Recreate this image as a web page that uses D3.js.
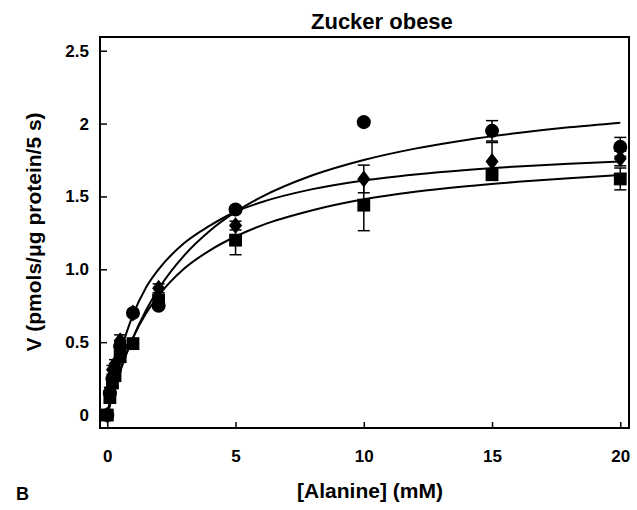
<!DOCTYPE html>
<html>
<head>
<meta charset="utf-8">
<script src="https://cdn.jsdelivr.net/npm/d3@7"></script>
<style>
  body { margin: 0; background: #fff; }
  svg text { font-family: "Liberation Sans", Arial, sans-serif; font-weight: bold; fill: #000; }
</style>
</head>
<body>
<svg id="chart" width="637" height="510"></svg>
<script>
// alanine concentration (mM)
const conc = [0, 0.1, 0.2, 0.3, 0.5, 1, 2, 5, 10, 15, 20];

// uptake V for the three groups, with SE
const circleV   = [0, 0.15, 0.25, 0.31, 0.47, 0.70, 0.75, 1.41, 2.01, 1.95, 1.84];
const circleErr = [0, 0, 0, 0, 0.03, 0.02, 0.02, 0.02, 0.02, 0.07, 0.065];
const diamondV   = [0, 0.17, 0.31, 0.35, 0.51, 0.70, 0.87, 1.30, 1.62, 1.74, 1.76];
const diamondErr = [0, 0.02, 0.03, 0.03, 0.04, 0.02, 0.03, 0.03, 0.095, 0.13, 0.05];
const squareV   = [0, 0.12, 0.22, 0.27, 0.40, 0.49, 0.79, 1.20, 1.44, 1.65, 1.62];
const squareErr = [0, 0.02, 0.03, 0.03, 0.03, 0.02, 0.03, 0.10, 0.175, 0.03, 0.075];

// fitted curves
const curveX       = [0, 0.25, 0.5, 1, 1.5, 2, 3, 4, 5, 6, 8, 10, 12, 14, 16, 18, 20];
const circleCurve  = [0, 0.160, 0.299, 0.530, 0.715, 0.866, 1.096, 1.265, 1.394, 1.495, 1.645, 1.750, 1.828, 1.888, 1.935, 1.974, 2.006];
const diamondCurve = [0, 0.236, 0.420, 0.687, 0.872, 1.000, 1.180, 1.300, 1.395, 1.460, 1.550, 1.610, 1.651, 1.682, 1.706, 1.725, 1.740];
const squareCurve  = [0, 0.170, 0.310, 0.530, 0.695, 0.820, 1.005, 1.130, 1.225, 1.300, 1.405, 1.480, 1.532, 1.570, 1.600, 1.625, 1.647];

const xTicks = [0, 5, 10, 15, 20];
const yTicks = [0, 0.5, 1.0, 1.5, 2, 2.5];
const yTickLabels = ["0", "0.5", "1.0", "1.5", "2", "2.5"];

const svg = d3.select("#chart");

const plotLeft = 100, plotRight = 629, plotTop = 37, plotBottom = 428;

const xScale = d3.scaleLinear()
	.domain([-0.285, 20.34])
	.range([plotLeft, plotRight]);

const yScale = d3.scaleLinear()
	.domain([-0.089, 2.594])
	.range([plotBottom, plotTop]);

// frame
svg.append("rect")
	.attr("x", plotLeft)
	.attr("y", plotTop)
	.attr("width", plotRight - plotLeft)
	.attr("height", plotBottom - plotTop)
	.attr("fill", "none")
	.attr("stroke", "#000")
	.attr("stroke-width", 2);

const xAxis = d3.axisBottom(xScale)
	.tickValues(xTicks)
	.tickFormat(d3.format("d"))
	.tickSizeInner(-6)
	.tickSizeOuter(0)
	.tickPadding(22);

const gx = svg.append("g")
	.attr("transform", "translate(0," + plotBottom + ")")
	.call(xAxis);
gx.select(".domain").remove();
gx.selectAll("line").attr("stroke-width", 1.5);
gx.selectAll("text").attr("font-size", "17px");

const yAxis = d3.axisLeft(yScale)
	.tickValues(yTicks)
	.tickFormat((d, i) => yTickLabels[i])
	.tickSizeInner(-7)
	.tickSizeOuter(0)
	.tickPadding(11);

const gy = svg.append("g")
	.attr("transform", "translate(" + plotLeft + ",0)")
	.call(yAxis);
gy.select(".domain").remove();
gy.selectAll("line").attr("stroke-width", 1.5);
gy.selectAll("text").attr("font-size", "17px");

// curves
const line = d3.line()
	.x(d => xScale(d[0]))
	.y(d => yScale(d[1]))
	.curve(d3.curveMonotoneX);

[circleCurve, diamondCurve, squareCurve].forEach(function(c){
	svg.append("path")
		.datum(curveX.map((x, i) => [x, c[i]]))
		.attr("d", line)
		.attr("fill", "none")
		.attr("stroke", "#000")
		.attr("stroke-width", 2);
});

const series = [
	{ key: "circle", v: circleV, err: circleErr, sym: d3.symbolCircle, size: 155 },
	{ key: "diamond", v: diamondV, err: diamondErr, sym: null, size: 0 },
	{ key: "square", v: squareV, err: squareErr, sym: d3.symbolSquare, size: 165 }
];

// error bars
series.forEach(function(s){
	const pts = conc.map((x, i) => ({ x: x, v: s.v[i], e: s.err[i] })).filter(d => d.e > 0);
	const g = svg.append("g").attr("stroke", "#000").attr("stroke-width", 1.5);
	g.selectAll(".bar").data(pts).enter().append("line")
		.attr("x1", d => xScale(d.x)).attr("x2", d => xScale(d.x))
		.attr("y1", d => yScale(d.v - d.e)).attr("y2", d => yScale(d.v + d.e));
	g.selectAll(".capTop").data(pts).enter().append("line")
		.attr("x1", d => xScale(d.x) - 6).attr("x2", d => xScale(d.x) + 6)
		.attr("y1", d => yScale(d.v + d.e)).attr("y2", d => yScale(d.v + d.e));
	g.selectAll(".capBot").data(pts).enter().append("line")
		.attr("x1", d => xScale(d.x) - 6).attr("x2", d => xScale(d.x) + 6)
		.attr("y1", d => yScale(d.v - d.e)).attr("y2", d => yScale(d.v - d.e));
});

// markers
series.forEach(function(s){
	const pts = conc.map((x, i) => ({ x: x, v: s.v[i] }));
	const sel = svg.append("g").selectAll("path").data(pts).enter().append("path")
		.attr("transform", d => "translate(" + xScale(d.x) + "," + yScale(d.v) + ")")
		.attr("fill", "#000");
	if (s.sym) {
		sel.attr("d", d3.symbol().type(s.sym).size(s.size));
	} else {
		sel.attr("d", "M0,-8.5L6.5,0L0,8.5L-6.5,0Z");
	}
});

// titles
svg.append("text")
	.attr("x", 311)
	.attr("y", 29)
	.attr("font-size", "22px")
	.text("Zucker obese");

svg.append("text")
	.attr("x", 370)
	.attr("y", 498)
	.attr("text-anchor", "middle")
	.attr("font-size", "21px")
	.text("[Alanine] (mM)");

svg.append("text")
	.attr("transform", "translate(41,232) rotate(-90)")
	.attr("text-anchor", "middle")
	.attr("font-size", "21px")
	.text("V (pmols/\u03BCg protein/5 s)");

svg.append("text")
	.attr("x", 16)
	.attr("y", 500)
	.attr("font-size", "18px")
	.text("B");
</script>
</body>
</html>
